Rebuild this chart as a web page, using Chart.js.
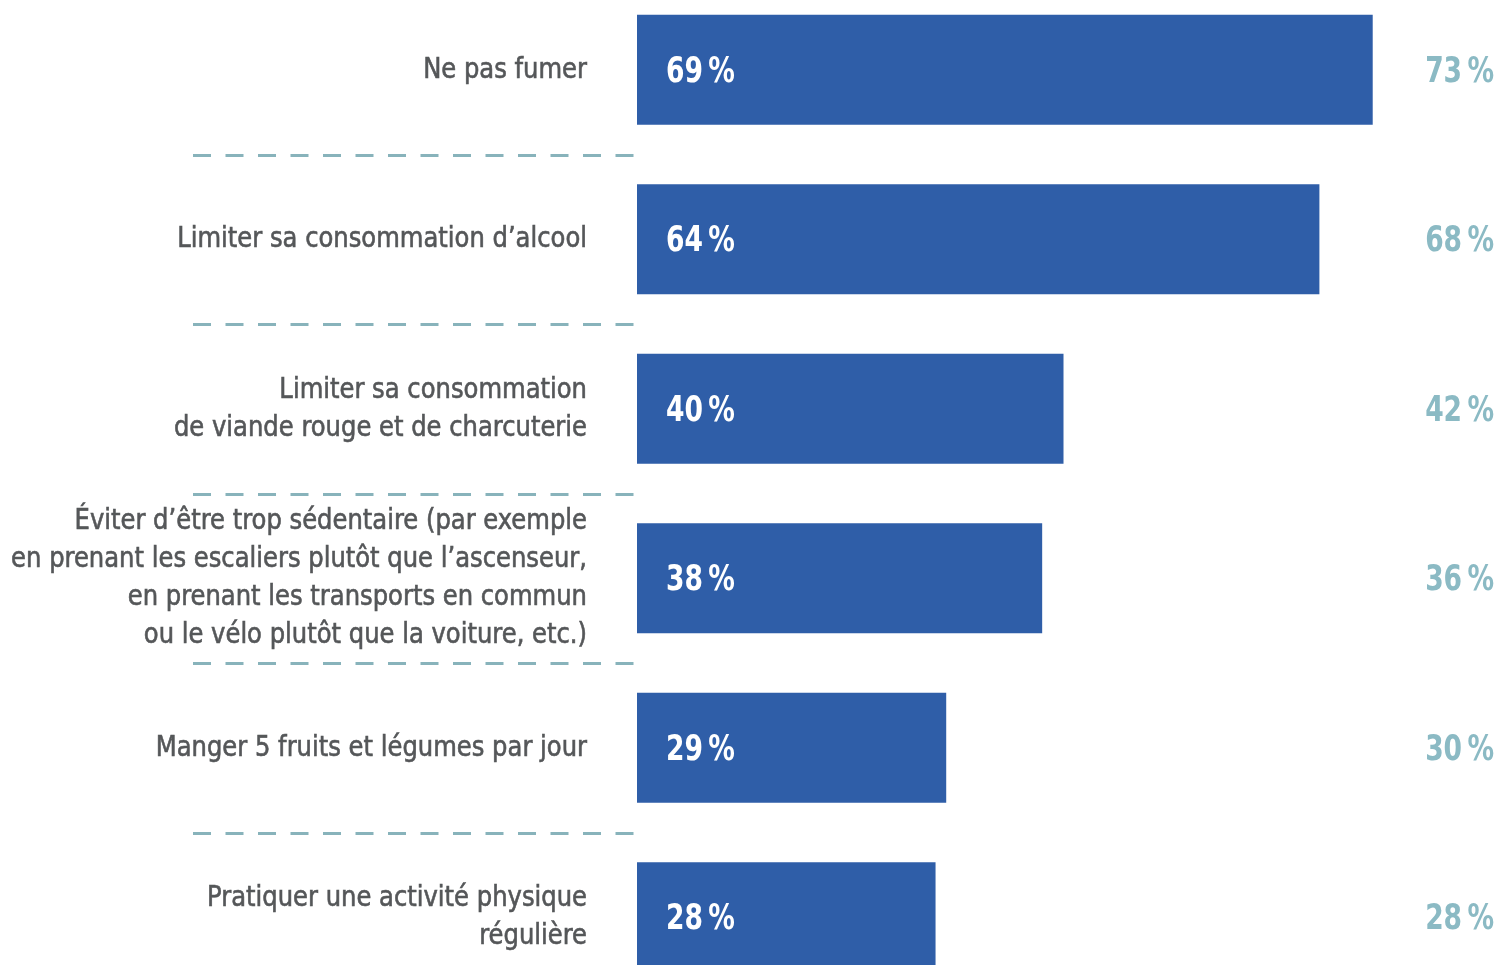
<!DOCTYPE html>
<html lang="fr">
<head>
<meta charset="utf-8">
<script src="https://cdn.jsdelivr.net/npm/chart.js@4"></script>
<style>
  html, body { margin: 0; padding: 0; background: #fff; overflow: hidden; }
  #wrap { position: absolute; left: 0; top: -15px; width: 1496px; height: 1017px; }
</style>
</head>
<body>
<div id="wrap"><canvas id="chart"></canvas></div>
<script>
const categories = [
  ['Ne pas fumer'],
  ['Limiter sa consommation d\u2019alcool'],
  ['Limiter sa consommation', 'de viande rouge et de charcuterie'],
  ['\u00c9viter d\u2019\u00eatre trop s\u00e9dentaire (par exemple',
   'en prenant les escaliers plut\u00f4t que l\u2019ascenseur,',
   'en prenant les transports en commun',
   'ou le v\u00e9lo plut\u00f4t que la voiture, etc.)'],
  ['Manger 5 fruits et l\u00e9gumes par jour'],
  ['Pratiquer une activit\u00e9 physique', 'r\u00e9guli\u00e8re']
];
const currentValues = [69, 64, 40, 38, 29, 28];
const previousValues = [73, 68, 42, 36, 30, 28];

const FONT = "'DejaVu Sans Condensed', 'DejaVu Sans', sans-serif";
const pct = v => v + '\u202F%';

// text squeezed horizontally to get a narrow face; optional outline thickens it
function narrowText(ctx, text, x, y, sx, weight) {
  ctx.save();
  ctx.translate(x, y);
  ctx.scale(sx, 1);
  ctx.fillText(text, 0, 0);
  if (weight) {
    ctx.lineWidth = weight;
    ctx.strokeStyle = ctx.fillStyle;
    ctx.strokeText(text, 0, 0);
  }
  ctx.restore();
}

// category names, right-aligned left of the bars
const categoryLabels = {
  id: 'categoryLabels',
  afterDraw(chart) {
    const { ctx, chartArea } = chart;
    const y = chart.scales.y;
    const lineH = 38;
    ctx.save();
    ctx.font = '29px ' + FONT;
    ctx.fillStyle = '#555759';
    ctx.textAlign = 'right';
    ctx.textBaseline = 'alphabetic';
    categories.forEach((lines, i) => {
      const cy = y.getPixelForValue(i);
      lines.forEach((line, k) => {
        const by = cy + 8 + (k - (lines.length - 1) / 2) * lineH;
        narrowText(ctx, line, chartArea.left - 50, by, 0.93, 0.6);
      });
    });
    ctx.restore();
  }
};

// dashed rules between rows, left of the bars
const separators = {
  id: 'separators',
  beforeDatasetsDraw(chart) {
    const { ctx } = chart;
    const y = chart.scales.y;
    ctx.save();
    ctx.strokeStyle = '#88b3bb';
    ctx.lineWidth = 3;
    ctx.setLineDash([18, 14.5]);
    for (let i = 0; i < categories.length - 1; i++) {
      const py = Math.round((y.getPixelForValue(i) + y.getPixelForValue(i + 1)) / 2) + 0.5;
      ctx.beginPath();
      ctx.moveTo(193, py);
      ctx.lineTo(634, py);
      ctx.stroke();
    }
    ctx.restore();
  }
};

// value inside each bar and the comparison value on the far right
const valueLabels = {
  id: 'valueLabels',
  afterDatasetsDraw(chart) {
    const { ctx } = chart;
    const meta = chart.getDatasetMeta(0);
    ctx.save();
    ctx.font = 'bold 36px ' + FONT;
    ctx.textBaseline = 'alphabetic';
    meta.data.forEach((bar, i) => {
      const by = bar.y + 12;
      ctx.fillStyle = '#ffffff';
      ctx.textAlign = 'left';
      narrowText(ctx, pct(currentValues[i]), bar.base + 29, by, 0.82);
      ctx.fillStyle = '#8bbac4';
      ctx.textAlign = 'right';
      narrowText(ctx, pct(previousValues[i]), chart.width - 2, by, 0.82);
    });
    ctx.restore();
  }
};

new Chart(document.getElementById('chart'), {
  type: 'bar',
  data: {
    labels: categories.map(l => l.join(' ')),
    datasets: [{
      data: currentValues,
      backgroundColor: '#2f5ea8',
      barPercentage: 0.65,
      categoryPercentage: 1
    }]
  },
  options: {
    indexAxis: 'y',
    responsive: true,
    maintainAspectRatio: false,
    animation: false,
    layout: { padding: { left: 637, right: 6, top: 0, bottom: 0 } },
    scales: {
      x: { display: false, min: 0, max: 80 },
      y: { display: false }
    },
    plugins: {
      legend: { display: false },
      tooltip: { enabled: false }
    }
  },
  plugins: [separators, valueLabels, categoryLabels]
});
</script>
</body>
</html>
